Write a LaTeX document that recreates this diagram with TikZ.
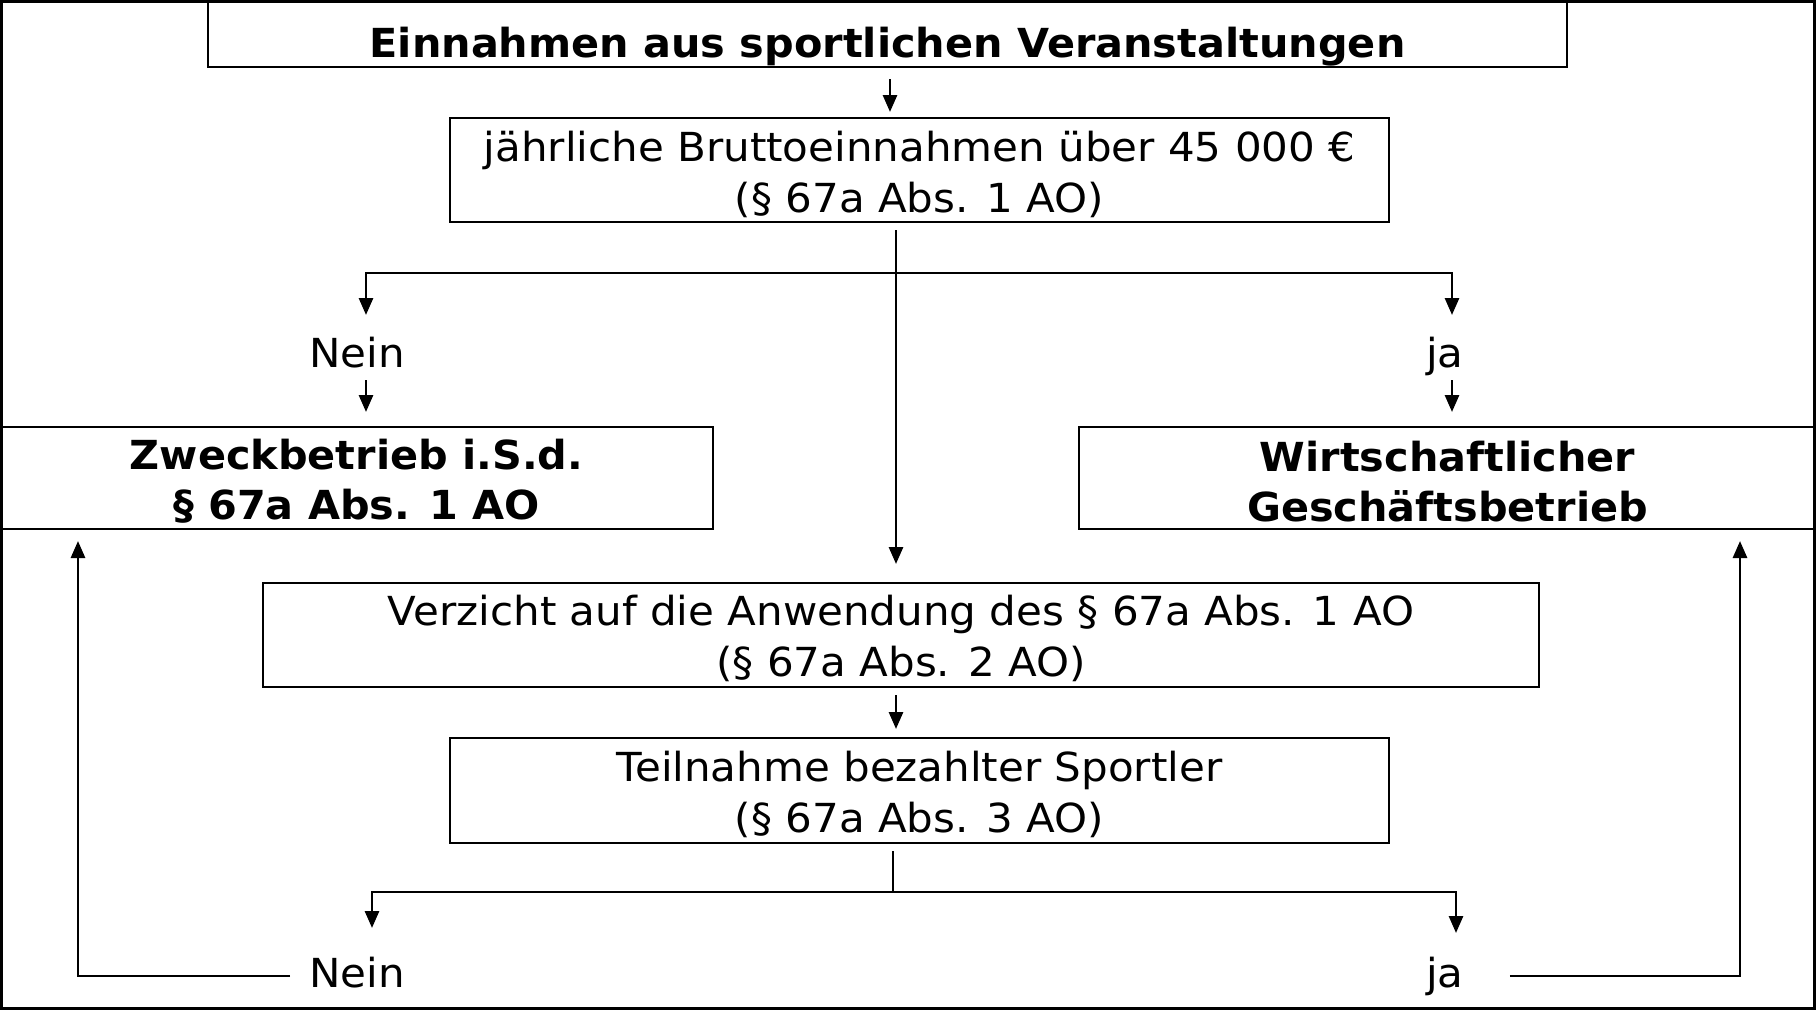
\documentclass[tikz,border=0pt]{standalone}
\usepackage{fontspec}
\setmainfont{DejaVu Sans}[FakeStretch=1.05, BoldFeatures={FakeStretch=1.035}]
\usetikzlibrary{arrows.meta}
\newcommand\myTopStrut[1]{\rule{0pt}{#1}}
\begin{document}
\begin{tikzpicture}[x=1pt,y=-1pt,
  box/.style={draw, line width=2pt, inner sep=0pt, align=center, font=\fontsize{40}{51}\selectfont},
  bbox/.style={box, font=\fontsize{40}{50}\selectfont\bfseries},
  lbl/.style={inner sep=0pt, font=\fontsize{40}{51}\selectfont},
  conn/.style={line width=2.8pt},
  arr/.style={conn, -{Triangle[length=17pt,width=14pt]}}]
\useasboundingbox (0,0) rectangle (1816,1010);
\draw[line width=3pt] (1.5,1.5) rectangle (1814.5,1008.5);

\node[bbox, anchor=north west, minimum width=1359pt, text height=56pt, text depth=10pt] (top) at (207,0) {Einnahmen aus sportlichen Veranstaltungen};
\node[box, minimum width=939pt, minimum height=104pt] (b2) at (919.5,170) {\myTopStrut{39pt}jährliche Bruttoeinnahmen über 45 000 €\\(§ 67a Abs. 1 AO)};
\node[bbox, minimum width=713pt, minimum height=102pt] (zweck) at (356.5,478) {\myTopStrut{37pt}Zweckbetrieb i.S.d.\\§ 67a Abs. 1 AO};
\node[bbox, minimum width=737pt, minimum height=102pt] (wirt) at (1447.5,478) {\myTopStrut{37pt}Wirtschaftlicher\\Geschäftsbetrieb};
\node[box, minimum width=1276pt, minimum height=104pt] (verz) at (901,635) {\myTopStrut{37pt}Verzicht auf die Anwendung des § 67a Abs. 1 AO\\(§ 67a Abs. 2 AO)};
\node[box, minimum width=939pt, minimum height=105pt] (teil) at (919.5,790.5) {\myTopStrut{38pt}Teilnahme bezahlter Sportler\\(§ 67a Abs. 3 AO)};

\node[lbl, anchor=base] (nein1) at (357,367) {Nein};
\node[lbl, anchor=base] (ja1) at (1445,367) {ja};
\node[lbl, anchor=base] (nein2) at (357,987) {Nein};
\node[lbl, anchor=base] (ja2) at (1445,987) {ja};

\coordinate (x1) at (890,0);
\coordinate (v1) at (896,273);
\coordinate (l1) at (366,273);
\coordinate (r1) at (1452,273);
\coordinate (l1e) at (366,315);
\coordinate (r1e) at (1452,315);
\coordinate (v2) at (893,892);
\coordinate (l2e) at (372,928);
\coordinate (r2e) at (1456,933);
\coordinate (fl) at (78,976);
\coordinate (fr) at (1740,976);

\draw[arr, shorten <=11pt, shorten >=5pt] (top.south -| x1) -- (b2.north -| x1);
\draw[arr, shorten <=7pt, shorten >=18pt] (b2.south -| v1) -- (verz.north -| v1);
\draw[arr] (v1) -| (l1e);
\draw[arr] (v1) -| (r1e);
\draw[arr, shorten <=13pt, shorten >=14pt] (nein1.base -| l1) -- (zweck.north -| l1);
\draw[arr, shorten <=13pt, shorten >=14pt] (ja1.base -| r1) -- (wirt.north -| r1);
\draw[arr, shorten <=7pt, shorten >=8pt] (verz.south -| v1) -- (teil.north -| v1);
\draw[conn, shorten <=7pt] (teil.south -| v2) -- (v2);
\draw[arr] (v2) -| (l2e);
\draw[arr] (v2) -| (r2e);
\draw[arr, shorten >=11pt] ([xshift=-19pt]nein2.west |- fl) -- (fl) -- (zweck.south -| fl);
\draw[arr, shorten >=11pt] ([xshift=46pt]ja2.east |- fr) -- (fr) -- (wirt.south -| fr);
\end{tikzpicture}
\end{document}
